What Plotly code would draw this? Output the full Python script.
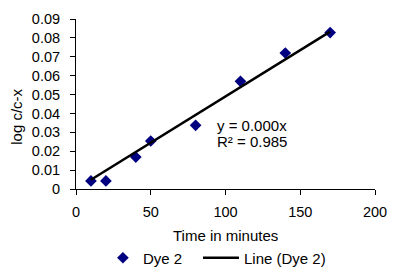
import plotly.graph_objects as go

time_min = [10, 20, 40, 50, 80, 110, 140, 170]
log_ratio = [0.0043, 0.0043, 0.0169, 0.0254, 0.0337, 0.0570, 0.0720, 0.0828]
line_x = [10, 170]
line_y = [0.0049, 0.0833]
x_ticks = [0, 50, 100, 150, 200]
y_ticks = [0, 0.01, 0.02, 0.03, 0.04, 0.05, 0.06, 0.07, 0.08, 0.09]
y_tick_text = ["0", "0.01", "0.02", "0.03", "0.04", "0.05", "0.06", "0.07", "0.08", "0.09"]

FONT = "Liberation Sans, Arial, sans-serif"

fig = go.Figure()
fig.add_trace(go.Scatter(x=time_min, y=log_ratio, mode="markers", name="Dye 2",
                         marker=dict(symbol="diamond", size=9, color="#000080"),
                         legend="legend"))
fig.add_trace(go.Scatter(x=line_x, y=line_y, mode="lines", name="Line (Dye 2)",
                         line=dict(color="black", width=2.5), legend="legend2"))

fig.update_layout(
    width=396, height=268,
    margin=dict(l=68, r=29, t=11, b=87, autoexpand=False),
    paper_bgcolor="white", plot_bgcolor="white",
    font=dict(family=FONT, size=14, color="black"),
    showlegend=True,
    legend=dict(orientation="h", x=0.09, xanchor="left", y=-0.406, yanchor="middle",
                font=dict(size=15), bgcolor="rgba(0,0,0,0)"),
    legend2=dict(orientation="h", x=0.408, xanchor="left", y=-0.406, yanchor="middle",
                 font=dict(size=15), bgcolor="rgba(0,0,0,0)", itemwidth=36),
    xaxis=dict(range=[0, 200], tickvals=x_ticks, showgrid=False, zeroline=False,
               showline=True, linecolor="black", linewidth=1, ticks="outside",
               ticklen=5, tickcolor="black", automargin=False,
               ticklabelstandoff=5, tickfont=dict(size=14.5)),
    yaxis=dict(range=[0, 0.09], tickvals=y_ticks, ticktext=y_tick_text, showgrid=False,
               zeroline=False, showline=True, linecolor="black", linewidth=1,
               ticks="outside", ticklen=5, tickcolor="black", automargin=False,
               ticklabelstandoff=7, tickfont=dict(size=14.5)),
    annotations=[
        dict(x=0.5, y=-0.276, xref="paper", yref="paper", xanchor="center", yanchor="middle",
             text="Time in minutes", showarrow=False, font=dict(size=15)),
        dict(x=(17 - 76) / 299, y=0.425, xref="paper", yref="paper", xanchor="center",
             yanchor="middle", text="log c/c-x", showarrow=False, textangle=-90,
             font=dict(size=15)),
        dict(x=0.465, y=0.376, xref="paper", yref="paper", xanchor="left", yanchor="middle",
             text="y = 0.000x", showarrow=False, font=dict(size=15)),
        dict(x=0.465, y=0.282, xref="paper", yref="paper", xanchor="left", yanchor="middle",
             text="R² = 0.985", showarrow=False, font=dict(size=15)),
    ],
)

fig.write_html("out.html")
